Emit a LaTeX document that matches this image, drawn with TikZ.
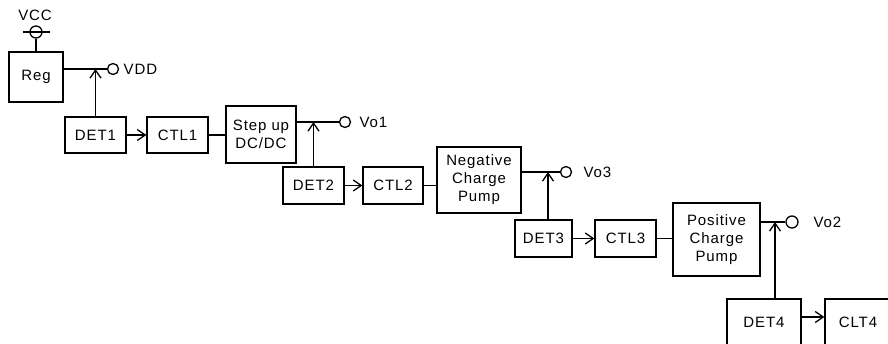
\documentclass[tikz,border=0pt]{standalone}
\usepackage{fontspec}
\setmainfont[LetterSpace=6]{Liberation Sans}
\usetikzlibrary{arrows.meta}

\tikzset{
    blk/.style = {draw, line width=1.3pt, align=center, inner sep=0pt},
    term/.style = {draw, line width=1.3pt, circle, inner sep=0pt, minimum size=11pt},
    lbl/.style = {anchor=west, inner sep=0pt},
    >={Straight Barb[length=8pt,width=11pt]}
}

\begin{document}
\begin{tikzpicture}[x=1pt, y=-1pt, line width=1.3pt, font=\fontsize{15}{18}\selectfont]
            \useasboundingbox (0,0) rectangle (888,343);
            \clip (0,0) rectangle (888,343);
            % blocks
            \node[blk, minimum width=54pt, minimum height=50pt] (reg) at (36,77) {Reg};
            \node[blk, minimum width=61pt, minimum height=36pt] (det1) at (95.5,135) {DET1};
            \node[blk, minimum width=61pt, minimum height=36pt] (ctl1) at (177.5,135) {CTL1};
            \node[blk, minimum width=70pt, minimum height=57pt] (stepup) at (261,134.5) {Step up\\DC/DC};
            \node[blk, minimum width=61pt, minimum height=37pt] (det2) at (313.5,185.5) {DET2};
            \node[blk, minimum width=60pt, minimum height=37pt] (ctl2) at (393,185.5) {CTL2};
            \node[blk, minimum width=84pt, minimum height=66pt] (negcp) at (479,180) {Negative\\Charge\\Pump};
            \node[blk, minimum width=57pt, minimum height=37pt] (det3) at (543.5,238.5) {DET3};
            \node[blk, minimum width=61pt, minimum height=37pt] (ctl3) at (625.5,238.5) {CTL3};
            \node[blk, minimum width=87pt, minimum height=73pt] (poscp) at (716.5,239.5) {Positive\\Charge\\Pump};
            \node[blk, minimum width=74pt, minimum height=46pt] (det4) at (764,322) {DET4};
            \node[blk, minimum width=66pt, minimum height=46pt] (clt4) at (858,322) {CLT4};
            % terminals
            \node[term, minimum size=12pt] (vcc) at (36,32) {};
            \node[term] (vdd) at (113,69) {};
            \node[term] (vo1) at (345,122) {};
            \node[term] (vo3) at (566,172) {};
            \node[term, minimum size=12pt] (vo2) at (792,222) {};
            \node (vcclbl) at (35,15) {VCC};
            \node[lbl] (vddlbl) at (123,69) {VDD};
            \node[lbl] (vo1lbl) at (359,122) {Vo1};
            \node[lbl] (vo3lbl) at (583,172) {Vo3};
            \node[lbl] (vo2lbl) at (813,222) {Vo2};
            \coordinate (tap3) at (548,172);
            \coordinate (tap4) at (775,222);
            % supply
            \draw (23,32) -- (50,32);
            \draw (vcc.south) -- (reg.north);
            % outputs
            \draw (reg.east |- vdd) -- (vdd);
            \draw (stepup.east |- vo1) -- (vo1);
            \draw (negcp.east |- vo3) -- (vo3);
            \draw (poscp.east |- vo2) -- (vo2);
            % detect and control
            \draw[->] (det1.north) -- (det1.north |- vdd);
            \draw[->] (det2.north) -- (det2.north |- vo1);
            \draw[->] (tap3 |- det3.north) -- (tap3);
            \draw[->] (tap4 |- det4.north) -- (tap4);
            \draw[->] (det1) -- (ctl1);
            \draw[->] (det2) -- (ctl2);
            \draw[->] (det3) -- (ctl3);
            \draw[->] ([yshift=5pt]det4.east) -- ([yshift=5pt]det4.east -| clt4.west);
            \draw (ctl1.east) -- (ctl1.east -| stepup.west);
            \draw (ctl2.east) -- (ctl2.east -| negcp.west);
            \draw (ctl3.east) -- (ctl3.east -| poscp.west);
        \end{tikzpicture}
\end{document}
